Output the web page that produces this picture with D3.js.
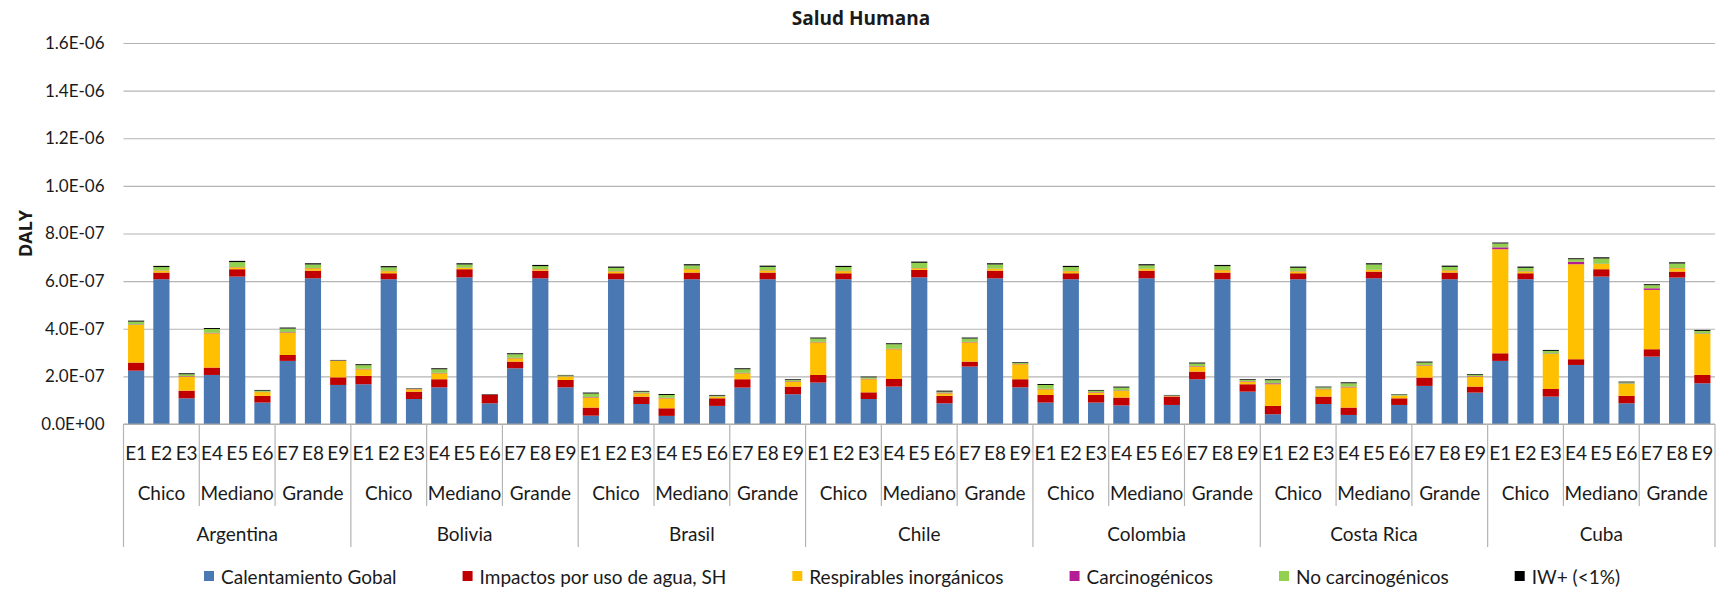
<!DOCTYPE html>
<html>
<head>
<meta charset="utf-8">
<script src="https://cdn.jsdelivr.net/npm/d3@7"></script>
<style>
  body { margin: 0; background: #fff; }
  text { font-family: Lato, "Open Sans", sans-serif; fill: #1a1a1a; }
</style>
</head>
<body>
<svg id="chart" width="1722" height="589"></svg>
<script>
// ---------------- DATA ----------------
const countries = ["Argentina", "Bolivia", "Brasil", "Chile", "Colombia", "Costa Rica", "Cuba"];
const sizes = ["Chico", "Mediano", "Grande"];
const scenarios = ["E1", "E2", "E3", "E4", "E5", "E6", "E7", "E8", "E9"];
const seriesNames = ["Calentamiento Gobal", "Impactos por uso de agua, SH", "Respirables inorgánicos",
                     "Carcinogénicos", "No carcinogénicos", "IW+ (<1%)"];
// values in units of 1E-07 DALY, 63 bars (country × E1..E9)
const calentamiento = [
  2.24, 6.08, 1.08, 2.06, 6.19, 0.90, 2.65, 6.12, 1.64,
  1.67, 6.08, 1.05, 1.54, 6.16, 0.87, 2.34, 6.12, 1.54,
  0.35, 6.08, 0.84, 0.34, 6.08, 0.76, 1.53, 6.08, 1.25,
  1.74, 6.08, 1.05, 1.57, 6.16, 0.87, 2.41, 6.12, 1.54,
  0.90, 6.08, 0.90, 0.78, 6.12, 0.80, 1.88, 6.08, 1.36,
  0.41, 6.08, 0.84, 0.38, 6.12, 0.80, 1.60, 6.08, 1.32,
  2.65, 6.08, 1.15, 2.48, 6.19, 0.87, 2.83, 6.15, 1.71];
const aguaSH = [
  0.34, 0.28, 0.32, 0.31, 0.31, 0.28, 0.25, 0.32, 0.32,
  0.35, 0.25, 0.31, 0.34, 0.34, 0.35, 0.28, 0.32, 0.31,
  0.34, 0.25, 0.31, 0.32, 0.28, 0.32, 0.35, 0.28, 0.32,
  0.32, 0.25, 0.28, 0.32, 0.31, 0.31, 0.21, 0.32, 0.34,
  0.32, 0.25, 0.32, 0.33, 0.32, 0.35, 0.32, 0.28, 0.31,
  0.35, 0.25, 0.31, 0.31, 0.28, 0.28, 0.35, 0.28, 0.25,
  0.32, 0.25, 0.32, 0.24, 0.31, 0.31, 0.31, 0.25, 0.35];
const respirables = [
  1.58, 0.08, 0.59, 1.44, 0.08, 0.16, 0.94, 0.10, 0.69,
  0.28, 0.09, 0.10, 0.25, 0.06, 0.01, 0.14, 0.06, 0.14,
  0.42, 0.08, 0.14, 0.42, 0.14, 0.06, 0.25, 0.09, 0.21,
  1.37, 0.09, 0.55, 1.25, 0.07, 0.11, 0.81, 0.08, 0.63,
  0.24, 0.09, 0.10, 0.28, 0.07, 0.02, 0.21, 0.10, 0.11,
  0.91, 0.08, 0.31, 0.85, 0.07, 0.10, 0.50, 0.09, 0.42,
  4.37, 0.08, 1.47, 3.99, 0.22, 0.50, 2.49, 0.14, 1.72];
const carcinogenicos = [
  0.02, 0.01, 0.02, 0.02, 0.01, 0.01, 0.02, 0.01, 0.01,
  0.02, 0.01, 0.01, 0.02, 0.01, 0.01, 0.02, 0.01, 0.01,
  0.02, 0.01, 0.02, 0.02, 0.01, 0.01, 0.02, 0.01, 0.02,
  0.02, 0.01, 0.02, 0.02, 0.01, 0.03, 0.02, 0.01, 0.01,
  0.02, 0.01, 0.02, 0.02, 0.01, 0.01, 0.02, 0.01, 0.02,
  0.04, 0.01, 0.02, 0.03, 0.01, 0.01, 0.02, 0.01, 0.02,
  0.08, 0.01, 0.02, 0.10, 0.01, 0.02, 0.07, 0.01, 0.02];
const noCarcinogenicos = [
  0.12, 0.14, 0.08, 0.16, 0.21, 0.05, 0.15, 0.15, 0.01,
  0.15, 0.15, 0.01, 0.15, 0.13, 0.00, 0.15, 0.12, 0.04,
  0.15, 0.14, 0.05, 0.12, 0.15, 0.04, 0.15, 0.14, 0.05,
  0.14, 0.16, 0.06, 0.19, 0.22, 0.04, 0.14, 0.17, 0.04,
  0.16, 0.16, 0.06, 0.12, 0.14, 0.02, 0.11, 0.16, 0.06,
  0.13, 0.14, 0.06, 0.14, 0.22, 0.04, 0.11, 0.14, 0.05,
  0.16, 0.14, 0.11, 0.11, 0.22, 0.05, 0.13, 0.19, 0.11];
const iwPlus = [
  0.04, 0.05, 0.04, 0.04, 0.05, 0.03, 0.04, 0.05, 0.02,
  0.04, 0.05, 0.02, 0.04, 0.05, 0.02, 0.04, 0.05, 0.02,
  0.04, 0.05, 0.03, 0.04, 0.05, 0.03, 0.04, 0.05, 0.03,
  0.04, 0.05, 0.03, 0.04, 0.05, 0.04, 0.04, 0.05, 0.03,
  0.04, 0.05, 0.03, 0.04, 0.05, 0.02, 0.04, 0.05, 0.03,
  0.04, 0.05, 0.03, 0.04, 0.05, 0.02, 0.04, 0.05, 0.03,
  0.04, 0.05, 0.04, 0.04, 0.05, 0.03, 0.04, 0.05, 0.04];
const UNIT = 1e-7;
const yTickValues = [0, 2e-7, 4e-7, 6e-7, 8e-7, 1e-6, 1.2e-6, 1.4e-6, 1.6e-6];
const yTickLabels = ["0.0E+00", "2.0E-07", "4.0E-07", "6.0E-07", "8.0E-07", "1.0E-06", "1.2E-06", "1.4E-06", "1.6E-06"];

// ---------------- STYLE ----------------
const colors = ["#4a78b2", "#c00000", "#ffc000", "#b41c96", "#92d050", "#000000"];
const W = 1722, H = 589;
const pL = 123.5, pR = 1715, pT = 43, pB = 424;

const svg = d3.select("#chart");
svg.append("rect").attr("width", W).attr("height", H).attr("fill", "#fff");

const seriesArrays = [calentamiento, aguaSH, respirables, carcinogenicos, noCarcinogenicos, iwPlus];
const keys = seriesNames;
const nPer = scenarios.length;
const rows = d3.range(countries.length * nPer).map(i => {
  const r = { idx: i, country: countries[Math.floor(i / nPer)], scen: scenarios[i % nPer] };
  keys.forEach((k, s) => { r[k] = seriesArrays[s][i] * UNIT; });
  return r;
});

const x = d3.scaleBand().domain(rows.map(d => d.idx)).range([pL, pR])
  .paddingInner(0.36).paddingOuter(0.18);
const y = d3.scaleLinear().domain([0, 1.6e-6]).range([pB, pT]);

// gridlines + y labels
const yAxis = d3.axisLeft(y).tickValues(yTickValues)
  .tickFormat((d, i) => yTickLabels[i])
  .tickSize(-(pR - pL)).tickPadding(19);
const gy = svg.append("g").attr("transform", `translate(${pL},0)`).call(yAxis);
gy.select(".domain").remove();
gy.selectAll(".tick line").attr("stroke", "#b4b4b4").attr("stroke-width", 1.2);
gy.selectAll(".tick text").style("font-family", "Lato, sans-serif").style("font-size", "17px").attr("fill", "#1a1a1a");

// bars
const stack = d3.stack().keys(keys)(rows);
svg.append("g").selectAll("g").data(stack).join("g")
  .attr("fill", (d, i) => colors[i])
  .selectAll("rect").data(d => d).join("rect")
  .attr("x", d => x(d.data.idx))
  .attr("width", x.bandwidth())
  .attr("y", d => y(d[1]))
  .attr("height", d => Math.max(0, y(d[0]) - y(d[1])));

// category axis
const pad = (x.step() - x.bandwidth()) / 2;
const boundary = j => (j < rows.length ? x(j) - pad : x(rows.length - 1) + x.bandwidth() + pad);
const axisG = svg.append("g");
axisG.append("line").attr("x1", pL).attr("x2", pR).attr("y1", pB).attr("y2", pB)
  .attr("stroke", "#a8a8a8").attr("stroke-width", 1.2);
for (let j = 0; j <= rows.length; j += 3) {
  const isCountry = j % nPer === 0;
  axisG.append("line")
    .attr("x1", boundary(j)).attr("x2", boundary(j))
    .attr("y1", pB).attr("y2", isCountry ? 547 : 506)
    .attr("stroke", "#b4b4b4").attr("stroke-width", 1.2);
}
// E labels
axisG.selectAll("text.e").data(rows).join("text").attr("class", "e")
  .attr("x", d => x(d.idx) + x.bandwidth() / 2).attr("y", 452)
  .attr("text-anchor", "middle").attr("dominant-baseline", "central")
  .style("font-size", "19px").text(d => d.scen);
// size labels
const sizeGroups = d3.range(countries.length * sizes.length);
axisG.selectAll("text.s").data(sizeGroups).join("text").attr("class", "s")
  .attr("x", g => (boundary(g * 3) + boundary(g * 3 + 3)) / 2).attr("y", 492)
  .attr("text-anchor", "middle").attr("dominant-baseline", "central")
  .style("font-size", "19px").text(g => sizes[g % sizes.length]);
// country labels
axisG.selectAll("text.c").data(countries).join("text").attr("class", "c")
  .attr("x", (c, i) => (boundary(i * nPer) + boundary(i * nPer + nPer)) / 2).attr("y", 533)
  .attr("text-anchor", "middle").attr("dominant-baseline", "central")
  .style("font-size", "19px").text(c => c);

// title
svg.append("text").attr("x", 861).attr("y", 18)
  .attr("text-anchor", "middle").attr("dominant-baseline", "central")
  .style("font-family", "'Open Sans', sans-serif").style("font-weight", "bold").style("font-size", "19px")
  .text("Salud Humana");

// y title
svg.append("text").attr("transform", `translate(25,${(pT + pB) / 2}) rotate(-90)`)
  .attr("text-anchor", "middle").attr("dominant-baseline", "central")
  .style("font-family", "'Open Sans', sans-serif").style("font-weight", "bold").style("font-size", "18px")
  .text("DALY");

// legend
const legendG = svg.append("g");
const items = legendG.selectAll("g").data(seriesNames).join("g");
items.append("rect").attr("width", 10).attr("height", 10).attr("y", 571)
  .attr("fill", (d, i) => colors[i]);
items.append("text").attr("x", 17).attr("y", 576).attr("dominant-baseline", "central")
  .style("font-size", "19px").text(d => d);
const gap = 66;
const widths = [];
items.each(function () { widths.push(17 + d3.select(this).select("text").node().getComputedTextLength()); });
const total = d3.sum(widths) + gap * (widths.length - 1);
let cx = 912 - total / 2;
items.attr("transform", (d, i) => { const t = `translate(${cx},0)`; cx += widths[i] + gap; return t; });
</script>
</body>
</html>
